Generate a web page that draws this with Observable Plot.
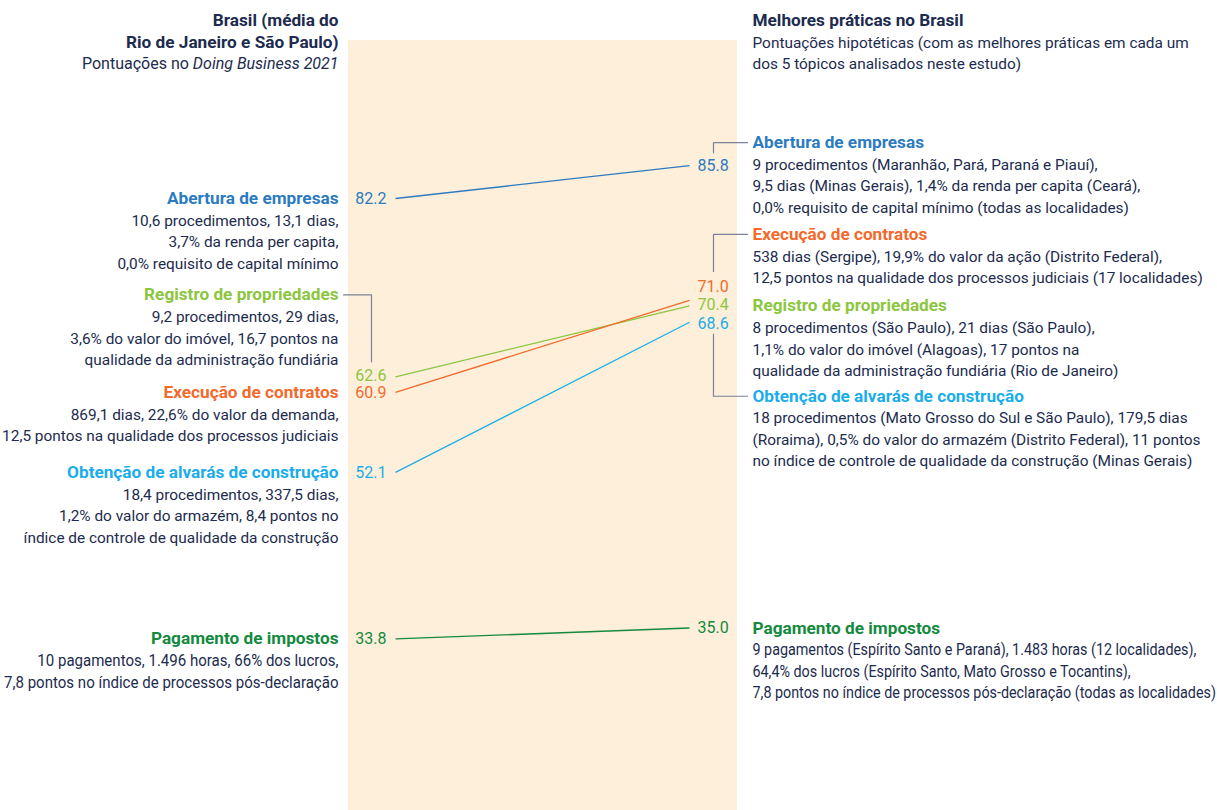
<!DOCTYPE html>
<html><head><meta charset="utf-8">
<script src="https://cdn.jsdelivr.net/npm/d3@7"></script>
<script src="https://cdn.jsdelivr.net/npm/@observablehq/plot@0.6"></script>
<style>body{margin:0;background:#fff;} svg{display:block;}</style>
</head><body><div id="chart"></div>
<script>
// ---------- data ----------
const topics = ["Abertura de empresas", "Registro de propriedades", "Execução de contratos", "Obtenção de alvarás de construção", "Pagamento de impostos"];
const brasilScores = [82.2, 62.6, 60.9, 52.1, 33.8];
const bestScores = [85.8, 70.4, 71.0, 68.6, 35.0];
const brasilNotes = [
  "10,6 procedimentos, 13,1 dias,\n3,7% da renda per capita,\n0,0% requisito de capital mínimo",
  "9,2 procedimentos, 29 dias,\n3,6% do valor do imóvel, 16,7 pontos na\nqualidade da administração fundiária",
  "869,1 dias, 22,6% do valor da demanda,\n12,5 pontos na qualidade dos processos judiciais",
  "18,4 procedimentos, 337,5 dias,\n1,2% do valor do armazém, 8,4 pontos no\níndice de controle de qualidade da construção",
  "10 pagamentos, 1.496 horas, 66% dos lucros,\n7,8 pontos no índice de processos pós-declaração"
];
const bestNotes = [
  "9 procedimentos (Maranhão, Pará, Paraná e Piauí),\n9,5 dias (Minas Gerais), 1,4% da renda per capita (Ceará),\n0,0% requisito de capital mínimo (todas as localidades)",
  "8 procedimentos (São Paulo), 21 dias (São Paulo),\n1,1% do valor do imóvel (Alagoas), 17 pontos na\nqualidade da administração fundiária (Rio de Janeiro)",
  "538 dias (Sergipe), 19,9% do valor da ação (Distrito Federal),\n12,5 pontos na qualidade dos processos judiciais (17 localidades)",
  "18 procedimentos (Mato Grosso do Sul e São Paulo), 179,5 dias\n(Roraima), 0,5% do valor do armazém (Distrito Federal), 11 pontos\nno índice de controle de qualidade da construção (Minas Gerais)",
  "9 pagamentos (Espírito Santo e Paraná), 1.483 horas (12 localidades),\n64,4% dos lucros (Espírito Santo, Mato Grosso e Tocantins),\n7,8 pontos no índice de processos pós-declaração (todas as localidades)"
];
const leftTitle = "Brasil (média do\nRio de Janeiro e São Paulo)";
const leftSubtitle = "Pontuações no";
const leftSubtitleItalic = "Doing Business 2021";
const rightTitle = "Melhores práticas no Brasil";
const rightSubtitle = "Pontuações hipotéticas (com as melhores práticas em cada um\ndos 5 tópicos analisados neste estudo)";

// ---------- styles / layout ----------
const topicColors = ["#2c7bc0", "#8cc63f", "#f26a2c", "#1badea", "#138a3e"];
const navy = "#1c2b4e";
const band = "#fdefd9";
const connector = "#7d8199";
const FONT = "Roboto, 'Noto Sans', sans-serif";
const FS_BODY = 15.4;
const FS_HEAD = 17.2;
const FS_VAL = 16;
const FS_TAX = 15.6;
const TAX_SQUEEZE = {left: 0.965, right: 0.92};
const LH_PX = 21.5;
const X_RANGE = [395, 689];
const Y_RANGE = [946, 36];
const PX_X = X_RANGE[1] - X_RANGE[0];
const PX_Y = (Y_RANGE[0] - Y_RANGE[1]) / 100;
const leftHeadDy = [0, -82, 0, 0, 0];
const rightHeadDy = [-23, 0, -66, 74, 0];
const rightValueDy = [0, -1, -14, 2, 0];
const leftValueDy = [0, -1, 1, 0, 0];
// connector brackets: [topic index, side, pixel offsets from the score anchor]
const brackets = [
  [0, "best", [[58, -23], [24, -23], [24, -13]]],
  [2, "best", [[58, -66], [24, -66], [24, -29]]],
  [3, "best", [[24, 12], [24, 74], [58, 74]]],
  [1, "brasil", [[-52, -82], [-24, -82], [-24, -15]]]
];

const rows = topics.map((t, i) => ({topic: t, brasil: brasilScores[i], best: bestScores[i], brasilNote: brasilNotes[i], bestNote: bestNotes[i]}));

// measure italic width for mixed-style subtitle
const FS_SUB = 16;
const ctx = document.createElement("canvas").getContext("2d");
ctx.font = `italic ${FS_SUB}px Roboto`;
const italicW = ctx.measureText(leftSubtitleItalic).width;
ctx.font = `${FS_SUB}px Roboto`;
const spaceW = ctx.measureText(" ").width;

const marks = [
  Plot.rect([{a: 0, b: 1}], {x1: "a", x2: "b", fill: band, insetLeft: -47, insetRight: -48, insetTop: 40}),
  // headers
  Plot.text([leftTitle], {x: () => 0, frameAnchor: "top", text: d => d, textAnchor: "end", lineAnchor: "top", dx: -57, dy: 10, fill: navy, fontWeight: 700, fontSize: FS_HEAD, lineHeight: 22 / FS_HEAD}),
  Plot.text([leftSubtitleItalic], {x: () => 0, frameAnchor: "top", text: d => d, textAnchor: "end", lineAnchor: "top", dx: -57, dy: 57, fill: navy, fontStyle: "italic", fontSize: FS_SUB}),
  Plot.text([leftSubtitle], {x: () => 0, frameAnchor: "top", text: d => d, textAnchor: "end", lineAnchor: "top", dx: -57 - italicW - spaceW, dy: 57, fill: navy, fontSize: FS_SUB}),
  Plot.text([rightTitle], {x: () => 1, frameAnchor: "top", text: d => d, textAnchor: "start", lineAnchor: "top", dx: 63, dy: 13, fill: navy, fontWeight: 700, fontSize: FS_HEAD}),
  Plot.text([rightSubtitle], {x: () => 1, frameAnchor: "top", text: d => d, textAnchor: "start", lineAnchor: "top", dx: 63, dy: 32, fill: navy, fontSize: FS_BODY, lineHeight: LH_PX / FS_BODY})
];

brackets.forEach(([i, side, offs]) => {
  const v = rows[i][side];
  const x0 = side === "best" ? 1 : 0;
  const pts = offs.map(([px, py]) => ({x: x0 + px / PX_X, y: v - py / PX_Y}));
  marks.push(Plot.line(pts, {x: "x", y: "y", stroke: connector, strokeWidth: 1.2}));
});

rows.forEach((r, i) => {
  const c = topicColors[i];
  const last = i === rows.length - 1;
  const bodyFs = last ? FS_TAX : FS_BODY;
  marks.push(
    Plot.link([r], {x1: () => 0, x2: () => 1, y1: "brasil", y2: "best", stroke: c, strokeWidth: 1.3}),
    Plot.text([r], {x: () => 0, y: "brasil", text: d => d.brasil.toFixed(1), textAnchor: "end", dx: -9, dy: leftValueDy[i], fill: c, fontSize: FS_VAL}),
    Plot.text([r], {x: () => 1, y: "best", text: d => d.best.toFixed(1), textAnchor: "start", dx: 8, dy: rightValueDy[i], fill: c, fontSize: FS_VAL}),
    Plot.text([r], {x: () => 0, y: "brasil", text: "topic", textAnchor: "end", dx: -57, dy: leftHeadDy[i], fill: c, fontWeight: 700, fontSize: FS_HEAD}),
    Plot.text([r], {x: () => 0, y: "brasil", text: "brasilNote", textAnchor: "end", lineAnchor: "top", dx: -57, dy: leftHeadDy[i] + 12, fill: navy, fontSize: bodyFs, lineHeight: LH_PX / bodyFs}),
    Plot.text([r], {x: () => 1, y: "best", text: "topic", textAnchor: "start", dx: 63, dy: rightHeadDy[i], fill: c, fontWeight: 700, fontSize: FS_HEAD}),
    Plot.text([r], {x: () => 1, y: "best", text: "bestNote", textAnchor: "start", lineAnchor: "top", dx: 63, dy: rightHeadDy[i] + 12, fill: navy, fontSize: bodyFs, lineHeight: LH_PX / bodyFs})
  );
});

const chart = Plot.plot({
  width: 1217,
  height: 810,
  margin: 0,
  style: {fontFamily: FONT, background: "#fff"},
  x: {domain: [0, 1], range: X_RANGE, axis: null},
  y: {domain: [0, 100], range: Y_RANGE, axis: null},
  marks
});

// the tax notes are set in a condensed cut in the original: squeeze them horizontally about their anchor
const taxNotes = {left: brasilNotes[4].split("\n")[0], right: bestNotes[4].split("\n")[0]};
d3.select(chart).selectAll("text").each(function () {
  const txt = this.textContent;
  const side = txt.startsWith(taxNotes.left) ? "left" : txt.startsWith(taxNotes.right) ? "right" : null;
  if (!side) return;
  const s = TAX_SQUEEZE[side];
  const t = this.getAttribute("transform") || "";
  const x = +this.getAttribute("x") || 0, y = +this.getAttribute("y") || 0;
  this.setAttribute("transform", `${t} translate(${x},${y}) scale(${s},1) translate(${-x},${-y})`);
});

document.getElementById("chart").append(chart);
</script>
</body></html>
